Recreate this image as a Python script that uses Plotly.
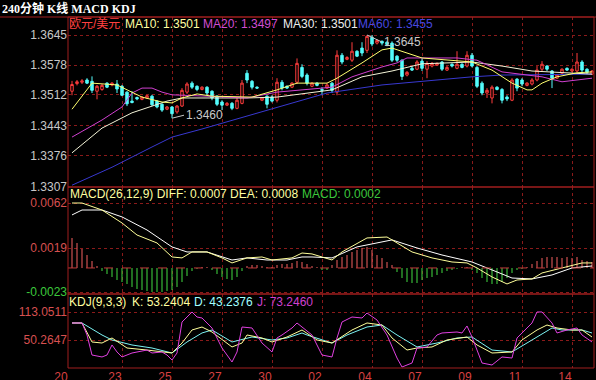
import plotly.graph_objects as go

W, H = 596, 380

# ---------------- data ----------------
candle_idx = list(range(105))
opens = [1.3520, 1.3537, 1.3540, 1.3545, 1.3542, 1.3520, 1.3524, 1.3538, 1.3534, 1.3536,
         1.3531, 1.3518, 1.3498, 1.3506, 1.3502, 1.3505, 1.3509, 1.3498, 1.3491, 1.3480,
         1.3485, 1.3474, 1.3487, 1.3518, 1.3538, 1.3531, 1.3524, 1.3529, 1.3520, 1.3509,
         1.3496, 1.3489, 1.3493, 1.3482, 1.3493, 1.3560, 1.3542, 1.3529, 1.3500, 1.3509,
         1.3507, 1.3500, 1.3540, 1.3531, 1.3529, 1.3540, 1.3573, 1.3556, 1.3531, 1.3538,
         1.3524, 1.3527, 1.3538, 1.3518, 1.3600, 1.3591, 1.3589, 1.3609, 1.3616, 1.3611,
         1.3640, 1.3627, 1.3631, 1.3629, 1.3627, 1.3598, 1.3589, 1.3556, 1.3571, 1.3569,
         1.3587, 1.3569, 1.3576, 1.3578, 1.3585, 1.3567, 1.3580, 1.3571, 1.3580, 1.3576,
         1.3600, 1.3573, 1.3538, 1.3516, 1.3505, 1.3529, 1.3524, 1.3507, 1.3500, 1.3547,
         1.3545, 1.3533, 1.3536, 1.3545, 1.3569, 1.3576, 1.3565, 1.3549, 1.3560, 1.3571,
         1.3565, 1.3565, 1.3585, 1.3569, 1.3558]
highs = [1.3543, 1.3545, 1.3547, 1.3549, 1.3553, 1.3534, 1.3536, 1.3540, 1.3540, 1.3545,
         1.3534, 1.3520, 1.3520, 1.3508, 1.3509, 1.3512, 1.3512, 1.3500, 1.3493, 1.3487,
         1.3487, 1.3489, 1.3527, 1.3540, 1.3542, 1.3533, 1.3531, 1.3531, 1.3522, 1.3511,
         1.3500, 1.3496, 1.3496, 1.3505, 1.3545, 1.3567, 1.3545, 1.3531, 1.3507, 1.3511,
         1.3511, 1.3549, 1.3545, 1.3533, 1.3540, 1.3593, 1.3580, 1.3560, 1.3540, 1.3540,
         1.3529, 1.3538, 1.3540, 1.3611, 1.3605, 1.3598, 1.3629, 1.3611, 1.3629, 1.3645,
         1.3645, 1.3636, 1.3633, 1.3631, 1.3631, 1.3600, 1.3591, 1.3565, 1.3576, 1.3589,
         1.3593, 1.3587, 1.3585, 1.3584, 1.3587, 1.3576, 1.3582, 1.3609, 1.3582, 1.3609,
         1.3605, 1.3576, 1.3542, 1.3527, 1.3533, 1.3531, 1.3527, 1.3511, 1.3549, 1.3549,
         1.3549, 1.3540, 1.3549, 1.3576, 1.3587, 1.3578, 1.3567, 1.3558, 1.3571, 1.3573,
         1.3571, 1.3605, 1.3589, 1.3571, 1.3567]
lows = [1.3511, 1.3533, 1.3536, 1.3536, 1.3516, 1.3502, 1.3521, 1.3527, 1.3531, 1.3516,
        1.3509, 1.3487, 1.3493, 1.3500, 1.3500, 1.3503, 1.3487, 1.3482, 1.3474, 1.3478,
        1.3460, 1.3470, 1.3485, 1.3514, 1.3525, 1.3520, 1.3522, 1.3511, 1.3500, 1.3487,
        1.3478, 1.3487, 1.3478, 1.3480, 1.3491, 1.3538, 1.3524, 1.3525, 1.3498, 1.3482,
        1.3495, 1.3495, 1.3522, 1.3525, 1.3527, 1.3536, 1.3549, 1.3533, 1.3529, 1.3531,
        1.3511, 1.3525, 1.3516, 1.3511, 1.3580, 1.3589, 1.3585, 1.3596, 1.3598, 1.3605,
        1.3620, 1.3624, 1.3622, 1.3620, 1.3585, 1.3585, 1.3545, 1.3553, 1.3565, 1.3567,
        1.3565, 1.3549, 1.3573, 1.3576, 1.3565, 1.3565, 1.3573, 1.3569, 1.3571, 1.3573,
        1.3573, 1.3527, 1.3511, 1.3505, 1.3493, 1.3522, 1.3493, 1.3498, 1.3498, 1.3520,
        1.3531, 1.3531, 1.3533, 1.3542, 1.3565, 1.3565, 1.3527, 1.3547, 1.3558, 1.3565,
        1.3562, 1.3562, 1.3560, 1.3558, 1.3556]
closes = [1.3535, 1.3541, 1.3543, 1.3538, 1.3522, 1.3531, 1.3533, 1.3529, 1.3538, 1.3525,
          1.3511, 1.3492, 1.3495, 1.3503, 1.3507, 1.3510, 1.3490, 1.3485, 1.3478, 1.3485,
          1.3470, 1.3487, 1.3522, 1.3536, 1.3529, 1.3524, 1.3529, 1.3516, 1.3505, 1.3491,
          1.3489, 1.3493, 1.3482, 1.3500, 1.3538, 1.3545, 1.3529, 1.3527, 1.3505, 1.3491,
          1.3498, 1.3540, 1.3527, 1.3527, 1.3538, 1.3582, 1.3553, 1.3538, 1.3538, 1.3533,
          1.3522, 1.3534, 1.3522, 1.3600, 1.3585, 1.3595, 1.3609, 1.3598, 1.3605, 1.3642,
          1.3625, 1.3633, 1.3627, 1.3624, 1.3589, 1.3589, 1.3553, 1.3562, 1.3567, 1.3585,
          1.3571, 1.3582, 1.3582, 1.3582, 1.3569, 1.3573, 1.3576, 1.3580, 1.3573, 1.3600,
          1.3576, 1.3531, 1.3516, 1.3522, 1.3529, 1.3524, 1.3500, 1.3503, 1.3545, 1.3527,
          1.3536, 1.3538, 1.3545, 1.3567, 1.3580, 1.3569, 1.3549, 1.3556, 1.3569, 1.3567,
          1.3569, 1.3585, 1.3567, 1.3562, 1.3565]

ma10_x = [0, 4, 9, 11, 14, 18, 20, 22, 25, 28, 33, 36, 41, 45, 51, 53, 58, 62, 64, 70,
          80, 84, 88, 91, 92, 94, 97, 101, 104]
ma10_y = [1.3480, 1.3538, 1.3534, 1.3523, 1.3507, 1.3496, 1.3494, 1.3505, 1.3514, 1.3509,
          1.3507, 1.3507, 1.3523, 1.3538, 1.3538, 1.3549, 1.3583, 1.3612, 1.3616, 1.3594,
          1.3585, 1.3567, 1.3538, 1.3523, 1.3523, 1.3538, 1.3552, 1.3561, 1.3563]
ma20_x = [0, 6, 10, 12, 14, 16, 18, 20, 27, 35, 41, 52, 56, 62, 65, 67, 77, 81, 86, 94, 98, 104]
ma20_y = [1.3418, 1.3456, 1.3485, 1.3516, 1.3527, 1.3527, 1.3518, 1.3512, 1.3509, 1.3505,
          1.3518, 1.3529, 1.3552, 1.3574, 1.3583, 1.3594, 1.3594, 1.3589, 1.3563, 1.3552,
          1.3541, 1.3549]
ma30_x = [0, 6, 12, 19, 22, 35, 41, 52, 58, 64, 70, 80, 86, 92, 104]
ma30_y = [1.3383, 1.3438, 1.3472, 1.3498, 1.3505, 1.3505, 1.3507, 1.3523, 1.3552, 1.3565,
          1.3581, 1.3585, 1.3576, 1.3565, 1.3558]
ma60_x = [0, 8, 16, 20, 26, 30, 41, 51, 62, 66, 80, 86, 104]
ma60_y = [1.3311, 1.3351, 1.3396, 1.3418, 1.3436, 1.3449, 1.3485, 1.3516, 1.3534, 1.3538,
          1.3552, 1.3556, 1.3558]

diff_x = [0, 2, 6, 10, 13, 17, 20, 22, 24, 27, 30, 32, 35, 38, 40, 44, 46, 48, 52, 54,
          59, 63, 64, 68, 72, 76, 79, 81, 84, 87, 89, 92, 94, 97, 100, 102, 104]
diff_y = [0.00621, 0.00621, 0.00554, 0.00430, 0.00315, 0.00239, 0.00105, 0.00096, 0.00153, 0.00153,
          0.00096, 0.00048, 0.00096, 0.00105, 0.00076, 0.00096, 0.00143, 0.00134, 0.00076, 0.00153,
          0.00287, 0.00296, 0.00268, 0.00153, 0.00096, 0.00057, 0.00048, 0.0, -0.00086, -0.00153,
          -0.00115, -0.00105, -0.00048, -0.00010, 0.00029, 0.00048, 0.00048]
dea_x = [0, 2, 6, 10, 15, 20, 23, 27, 32, 35, 39, 43, 46, 48, 52, 57, 64, 69, 74, 80,
         84, 88, 92, 96, 100, 104]
dea_y = [0.00507, 0.00554, 0.00554, 0.00488, 0.00363, 0.00201, 0.00153, 0.00153, 0.00076, 0.00096,
         0.00076, 0.00076, 0.00105, 0.00105, 0.00096, 0.00201, 0.00268, 0.00191, 0.00124, 0.00057,
         -0.00019, -0.00096, -0.00105, -0.00067, 0.0, 0.00019]
macd_hist = [0.00287, 0.00239, 0.00182, 0.00124, 0.00067, 0.00019, -0.00029, -0.00057, -0.00086, -0.00115,
             -0.00134, -0.00153, -0.00182, -0.00201, -0.00210, -0.00220, -0.00229, -0.00229, -0.00229, -0.00220,
             -0.00210, -0.00182, -0.00134, -0.00076, -0.00029, -0.00010, 0.00010, 0.00010, -0.00019, -0.00057,
             -0.00086, -0.00105, -0.00115, -0.00086, -0.00029, 0.00019, 0.00029, 0.00029, 0.00019, 0.00010,
             0.00010, 0.00029, 0.00038, 0.00038, 0.00048, 0.00067, 0.00057, 0.00038, 0.00019, 0.00010,
             -0.00019, -0.00019, 0.00029, 0.00076, 0.00105, 0.00124, 0.00153, 0.00172, 0.00191, 0.00201,
             0.00172, 0.00124, 0.00096, 0.00057, 0.00029, -0.00038, -0.00096, -0.00134, -0.00143, -0.00143,
             -0.00115, -0.00096, -0.00086, -0.00067, -0.00048, -0.00029, -0.00019, -0.00010, 0.00010, 0.00010,
             -0.00019, -0.00048, -0.00096, -0.00134, -0.00153, -0.00153, -0.00134, -0.00096, -0.00048, -0.00019,
             -0.00010, 0.00010, 0.00038, 0.00067, 0.00096, 0.00105, 0.00105, 0.00105, 0.00096, 0.00105,
             0.00096, 0.00105, 0.00076, 0.00067, 0.00057]

k_x = [0, 2, 4, 6, 8, 11, 15, 19, 20, 22, 24, 26, 28, 32, 34, 35, 38, 40, 43, 46,
       49, 52, 56, 59, 62, 64, 67, 69, 72, 75, 79, 81, 84, 88, 90, 93, 95, 97, 100, 102, 104]
k_y = [88.4, 88.4, 45.8, 43.5, 54.8, 32.3, 27.8, 23.4, 21.1, 43.5, 72.7, 79.4, 68.2, 34.6, 43.5,
       61.5, 54.8, 45.8, 57.0, 72.7, 50.3, 43.5, 72.7, 88.4, 83.9, 54.8, 27.8, 32.3, 34.6, 50.3,
       57.0, 39.1, 21.1, 23.4, 50.3, 72.7, 83.9, 77.2, 72.7, 72.7, 57.0]
d_x = [0, 2, 6, 8, 12, 16, 20, 23, 26, 28, 32, 36, 40, 43, 46, 47, 52, 55, 59, 62,
       65, 69, 73, 77, 80, 84, 88, 92, 96, 98, 102, 104]
d_y = [88.4, 88.4, 61.5, 50.3, 39.1, 32.3, 21.1, 45.8, 66.0, 72.7, 45.8, 57.0, 50.3, 54.8, 66.0,
       61.5, 43.5, 61.5, 79.4, 83.9, 61.5, 34.6, 43.5, 54.8, 57.0, 27.8, 23.4, 50.3, 77.2, 72.7,
       72.7, 66.0]
j_x = [0, 2, 3, 4, 6, 7, 8, 9, 10, 12, 15, 16, 18, 19, 20, 21, 22, 24, 25, 26,
       28, 30, 32, 33, 34, 36, 38, 40, 41, 42, 44, 45, 48, 50, 52, 53, 54, 56, 58, 59,
       61, 63, 65, 66, 68, 69, 71, 73, 74, 77, 78, 79, 80, 82, 84, 86, 88, 89, 92, 93,
       94, 96, 97, 99, 101, 102, 104]
j_y = [88.4, 88.4, 61.5, 16.6, 12.2, 16.6, 39.1, 23.4, 12.2, 21.1,
       27.8, 21.1, 23.4, 16.6, 5.4, 21.1, 90.6, 113.1, 101.8, 99.6,
       77.2, 32.3, 0.9, 23.4, 79.4, 77.2, 43.5, 23.4, 54.8, 61.5,
       77.2, 88.4, 61.5, 16.6, 12.2, 54.8, 90.6, 101.8, 99.6, 110.8,
       95.1, 61.5, 9.9, -10.3, -1.3, 32.3, 34.6, 61.5, 66.0, 68.2,
       66.0, 81.7, 57.0, -1.3, -5.8, 12.2, 9.9, 54.8, 88.4, 113.1,
       113.1, 88.4, 66.0, 72.7, 77.2, 61.5, 45.8]

grid_x = [-0.8, 10, 20, 30, 40, 50, 60, 70, 80, 90, 100]
date_labels = ["20", "23", "25", "27", "30", "02", "04", "07", "09", "11", "14"]
price_ticks = [1.3645, 1.3578, 1.3512, 1.3443, 1.3376, 1.3307]
macd_ticks = [0.0062, 0.0019, -0.0023]
kdj_ticks = [113.0511, 50.2647]

# ---------------- styling ----------------
BORDER = "#A01E1E"
GRID = "#8A1A1A"
FONT = "Liberation Sans, Arial, Noto Sans CJK SC, sans-serif"
C_MA10 = "#FFFF70"
C_MA20 = "#D040D0"
C_MA30 = "#F4F4D8"
C_MA60 = "#3838D0"
C_UP = "#FF3C3C"
C_DN = "#54FCFC"

def py(p):
    return (H - p) / H

def px(p):
    return p / W

XD = [px(68), px(594)]
D_MAIN = [py(187), py(17)]
D_MACD = [py(294), py(187)]
D_KDJ = [py(368), py(294)]

fig = go.Figure()

fig.add_trace(go.Candlestick(
    x=candle_idx, open=opens, high=highs, low=lows, close=closes,
    increasing=dict(line=dict(color=C_UP, width=1), fillcolor="#000000"),
    decreasing=dict(line=dict(color=C_DN, width=1), fillcolor=C_DN),
    whiskerwidth=0, xaxis="x", yaxis="y", hoverinfo="skip"))

for xs, ys, c in [(ma60_x, ma60_y, C_MA60), (ma30_x, ma30_y, C_MA30),
                  (ma20_x, ma20_y, C_MA20), (ma10_x, ma10_y, C_MA10)]:
    fig.add_trace(go.Scatter(x=xs, y=ys, mode="lines", line=dict(color=c, width=1),
                             xaxis="x", yaxis="y", hoverinfo="skip"))

bar_colors = ["#E05858" if v >= 0 else "#3CC83C" for v in macd_hist]
fig.add_trace(go.Bar(x=candle_idx, y=macd_hist, width=0.22, marker=dict(color=bar_colors, line=dict(width=0)),
                     xaxis="x2", yaxis="y2", hoverinfo="skip"))
fig.add_trace(go.Scatter(x=dea_x, y=dea_y, mode="lines", line=dict(color="#FFFFFF", width=1),
                         xaxis="x2", yaxis="y2", hoverinfo="skip"))
fig.add_trace(go.Scatter(x=diff_x, y=diff_y, mode="lines", line=dict(color="#FFFF9A", width=1),
                         xaxis="x2", yaxis="y2", hoverinfo="skip"))

for xs, ys, c in [(d_x, d_y, "#7CF4F4"), (k_x, k_y, "#FFFF9A"), (j_x, j_y, "#E040E0")]:
    fig.add_trace(go.Scatter(x=xs, y=ys, mode="lines", line=dict(color=c, width=1),
                             xaxis="x3", yaxis="y3", hoverinfo="skip"))

xcommon = dict(domain=XD, range=[-0.8, 104.4], tickmode="array", tickvals=grid_x,
               showgrid=True, gridcolor=GRID, griddash="dot", gridwidth=1,
               zeroline=False, showline=False, ticks="", fixedrange=True, automargin=False)

ycommon = dict(showgrid=True, gridcolor=GRID, griddash="dot", zeroline=False,
               showline=False, ticks="", automargin=False, tickmode="array", fixedrange=True)

fig.update_layout(
    width=W, height=H, margin=dict(l=0, r=0, t=0, b=0, pad=0, autoexpand=False),
    paper_bgcolor="#000000", plot_bgcolor="#000000", showlegend=False,
    font=dict(family=FONT, size=12, color="#C8C8C8"),
    hovermode=False,
    xaxis=dict(**xcommon, anchor="y", showticklabels=False, rangeslider=dict(visible=False)),
    xaxis2=dict(**xcommon, anchor="y2", matches="x", showticklabels=False),
    xaxis3=dict(**xcommon, anchor="y3", matches="x", showticklabels=True,
                ticktext=date_labels, ticklabelshift=-7,
                tickfont=dict(color="#D84040", size=12, family=FONT)),
    yaxis=dict(**ycommon, domain=D_MAIN, range=[1.3307, 1.36851], anchor="x",
               tickvals=price_ticks, ticktext=["%.4f" % v for v in price_ticks],
               tickfont=dict(color="#C8C8C8", size=12)),
    yaxis2=dict(**ycommon, domain=D_MACD, range=[-0.00249, 0.00774], anchor="x2",
                tickvals=macd_ticks,
                ticktext=["<span style='color:#D85050'>0.0062</span>",
                          "<span style='color:#D85050'>0.0019</span>",
                          "<span style='color:#3CC83C'>-0.0023</span>"],
                tickfont=dict(size=12)),
    yaxis3=dict(**ycommon, domain=D_KDJ, range=[-12.52, 153.4], anchor="x3",
                tickvals=kdj_ticks, ticktext=["113.0511", "50.2647"],
                tickfont=dict(color="#D85050", size=12)),
)

shapes = [
    dict(type="line", xref="paper", yref="paper", x0=0, x1=1, y0=py(17), y1=py(17),
         line=dict(color=BORDER, width=1)),
    dict(type="line", xref="x2", yref="y2", x0=-0.8, x1=104.4, y0=0, y1=0,
         line=dict(color="#C03A3A", width=1, dash="dash")),
]
for d in (D_MAIN, D_MACD, D_KDJ):
    shapes.append(dict(type="rect", xref="paper", yref="paper", x0=XD[0], x1=XD[1],
                       y0=d[0], y1=d[1], line=dict(color=BORDER, width=1)))
fig.update_layout(shapes=shapes)

def label(x, y, text, color, size=12, family=FONT):
    fig.add_annotation(x=px(x), y=py(y), xref="paper", yref="paper", text=text,
                       showarrow=False, xanchor="left", yanchor="middle",
                       font=dict(color=color, size=size, family=family),
                       borderpad=0)

label(1, 9, "<b>240分钟 K线 MACD KDJ</b>", "#FFFFFF", size=12,
      family="Liberation Serif, Noto Sans CJK SC, serif")
label(68, 24, "欧元/美元", "#FF4040")
label(124, 24, "MA10: 1.3501", "#FFFFA0")
label(202, 24, "MA20: 1.3497", "#D24DD2")
label(282, 24, "MA30: 1.3501", "#EEEEEE")
label(357, 24, "MA60: 1.3455", "#4848E0")
label(69, 194, "MACD(26,12,9) DIFF: 0.0007 DEA: 0.0008", "#FFFFA0")
label(301, 194, "MACD: 0.0002", "#3CC83C")
label(68, 302, "KDJ(9,3,3)", "#FFFFA0")
label(131, 302, "K: 53.2404", "#FFFFA0")
label(193, 302, "D: 43.2376", "#A0FFFF")
label(256, 302, "J: 73.2460", "#D040D0")

fig.add_annotation(x=20, y=1.3460, xref="x", yref="y", text="1.3460", showarrow=True,
                   arrowhead=0, arrowwidth=1, arrowcolor="#C8C8C8", ax=12, ay=-3,
                   xanchor="left", yanchor="middle", font=dict(color="#C8C8C8", size=12))
fig.add_annotation(x=59, y=1.3645, xref="x", yref="y", text="1.3645", showarrow=True,
                   arrowhead=0, arrowwidth=1, arrowcolor="#C8C8C8", ax=15, ay=7,
                   xanchor="left", yanchor="middle", font=dict(color="#C8C8C8", size=12))

fig.write_html("out.html",
               config={"displayModeBar": False, "staticPlot": True},
               post_script="document.body.style.margin='0';document.body.style.padding='0';"
                           "document.body.style.background='#000';")
